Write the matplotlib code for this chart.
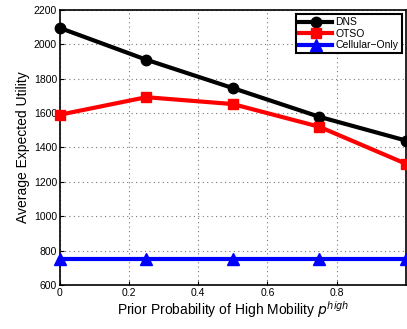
import matplotlib
matplotlib.use("Agg")
import matplotlib.pyplot as plt

plt.rcParams['font.family'] = ['Liberation Sans', 'DejaVu Sans']

p_high = [0, 0.25, 0.5, 0.75, 1.0]
dns = [2095, 1910, 1745, 1578, 1440]
otso = [1590, 1692, 1652, 1520, 1305]
cellular = [750, 750, 750, 750, 750]

fig = plt.figure(figsize=(4.07, 3.29), dpi=100)
ax = fig.add_axes([0.147, 0.134, 0.85, 0.836])

ax.plot(p_high, dns, color='black', lw=3, marker='o', ms=7.5, label='DNS', clip_on=False, zorder=5)
ax.plot(p_high, otso, color='red', lw=3, marker='s', ms=7.5, label='OTSO', clip_on=False, zorder=5)
ax.plot(p_high, cellular, color='blue', lw=3, marker='^', ms=9, label='Cellular\u2212Only', clip_on=False, zorder=5)

ax.set_xlim(0, 1)
ax.set_ylim(600, 2200)
ax.set_xticks([0, 0.2, 0.4, 0.6, 0.8])
ax.set_xticklabels(['0', '0.2', '0.4', '0.6', '0.8'])
ax.set_yticks(range(600, 2201, 200))
ax.tick_params(labelsize=7.5, direction='in', length=3, pad=2)
ax.grid(True, linestyle=(0, (1, 3)), color='#777777', lw=0.8)
for s in ax.spines.values():
    s.set_linewidth(1.2)

ax.set_xlabel('Prior Probability of High Mobility $p^{high}$', fontsize=10, labelpad=1)
ax.set_ylabel('Average Expected Utility', fontsize=10, labelpad=3)

leg = ax.legend(loc='upper right', fontsize=7.5, fancybox=False, framealpha=1,
                edgecolor='black', borderpad=0.3, labelspacing=0.15, handlelength=3.2,
                borderaxespad=0.4, handletextpad=0.3)
leg.get_frame().set_linewidth(1.5)

fig.savefig('out.png', dpi=100)
